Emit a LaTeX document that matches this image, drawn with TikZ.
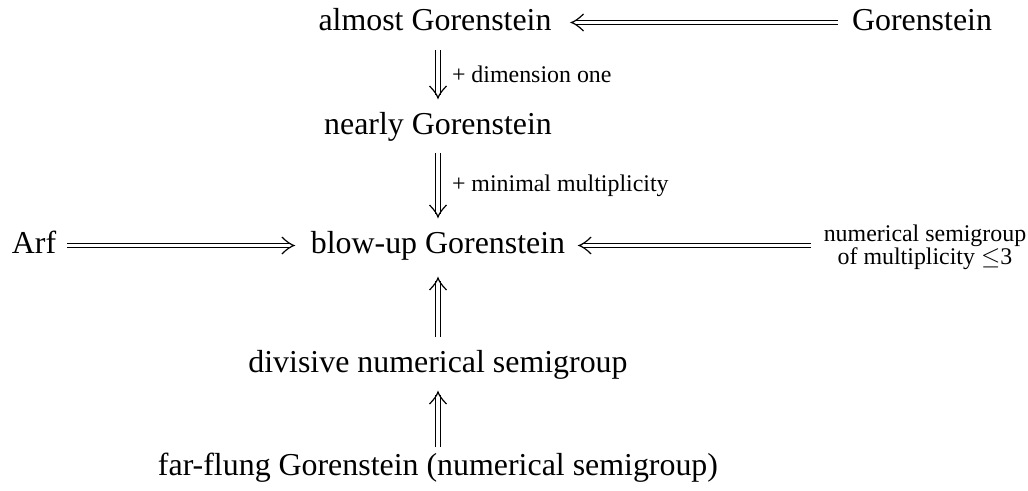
\documentclass[tikz,border=0pt]{standalone}
\usepackage{fontspec}
\setmainfont{Liberation Serif}
\usetikzlibrary{decorations.markings}
\begin{document}
\begin{tikzpicture}[x=1pt,y=-1pt,
  lbl/.style={font=\fontsize{31.9}{36}\selectfont, inner sep=0pt, outer sep=0pt, text height=22pt, text depth=7pt, anchor=center},
  sml/.style={font=\fontsize{23.9}{23}\selectfont, inner sep=0pt, outer sep=0pt, align=center},
  tipline/.style={line width=1.2pt, solid, shorten <=0pt, shorten >=0pt},
  imp/.style 2 args={double, double distance=3.4pt, line width=1.2pt,
    shorten <=#1pt, shorten >=#2pt+3pt,
    postaction={decorate, decoration={markings, mark=at position -#2pt with {
      \draw[tipline] (-12pt,8.5pt) .. controls (-7pt,3.5pt) and (-3pt,1pt) .. (0pt,0pt)
        .. controls (-3pt,-1pt) and (-7pt,-3.5pt) .. (-12pt,-8.5pt);}}}}]
\useasboundingbox (0,0) rectangle (1028,490);
\node[lbl] (ag) at (435,22.5) {almost Gorenstein};
\node[lbl] (g) at (922,22.5) {Gorenstein};
\node[lbl] (ng) at (438,126.5) {nearly Gorenstein};
\node[lbl] (bg) at (438,245.5) {blow-up Gorenstein};
\node[lbl] (arf) at (34,245.5) {Arf};
\node[sml] (ns) at (925,247) {numerical semigroup\\of multiplicity $\leq$3};
\node[lbl] (dn) at (438,364.5) {divisive numerical semigroup};
\node[lbl] (ff) at (438,467.5) {far-flung Gorenstein (numerical semigroup)};
\draw[imp={14}{20}] (g.west) -- (ag.east);
\draw[imp={13}{14}] (ng|-ag.south) -- (ng.north)
  node[sml, midway, anchor=west, xshift=14pt] (l1) {+ dimension one};
\draw[imp={12}{14}] (ng.south) -- (bg.north)
  node[sml, midway, anchor=west, xshift=14pt] (l2) {+ minimal multiplicity};
\draw[imp={11}{17}] (arf.east) -- (bg.west);
\draw[imp={13}{14}] (ns.west|-bg) -- (bg.east);
\draw[imp={13}{18}] (dn.north) -- (bg.south);
\draw[imp={6}{13}] (ff.north) -- (dn.south);
\end{tikzpicture}
\end{document}
